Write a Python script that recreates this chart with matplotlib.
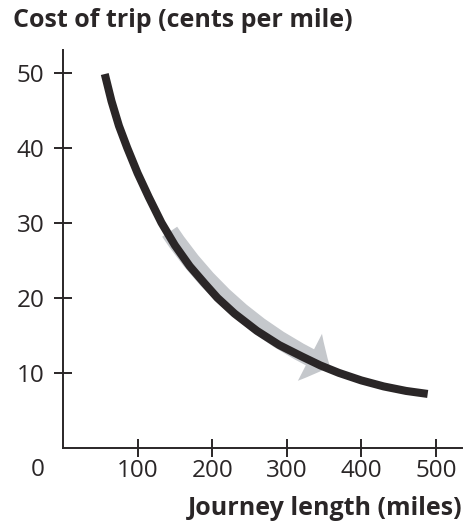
import matplotlib.pyplot as plt
from matplotlib.patches import FancyArrowPatch

# points (journey length in miles, cost in cents per mile)
miles = [56, 65, 75, 86, 100, 115, 132, 150, 170, 190, 207, 230, 260, 290, 320, 345, 370, 400, 430, 460, 489]
cost = [49.8, 46.2, 42.9, 40.0, 36.6, 33.4, 30.0, 27.0, 24.2, 21.9, 20.0, 17.9, 15.6, 13.7, 12.2, 11.0, 10.0, 9.0, 8.2, 7.6, 7.2]

xticks = [100, 200, 300, 400, 500]
yticks = [10, 20, 30, 40, 50]

# gray arrow: tail and tip
arrow_start = (143, 28.8)
arrow_end = (358, 10.8)

dark = "#2a2627"
gray = "#c5c8cc"
font = "Open Sans"

fig = plt.figure(figsize=(4.67, 5.29), dpi=100)
ax = fig.add_axes([63 / 467, 81 / 529, 399 / 467, 398 / 529])

arrow = FancyArrowPatch(arrow_start, arrow_end, connectionstyle="arc3,rad=0.145",
                        arrowstyle="simple,head_length=16,head_width=38,tail_width=13",
                        color=gray, lw=0, shrinkA=0, shrinkB=0, zorder=2)
ax.add_patch(arrow)

ax.plot(miles, cost, color=dark, lw=5.8, solid_capstyle="butt",
        solid_joinstyle="round", zorder=3)

ax.set_xlim(0, 535)
ax.set_ylim(0, 53)
ax.set_xticks(xticks)
ax.set_yticks(yticks)
ax.set_xticklabels([str(v) for v in xticks], fontname=font, fontsize=17.5, color=dark)
ax.set_yticklabels([str(v) for v in yticks], fontname=font, fontsize=17.5, color=dark)

for s in ["top", "right"]:
    ax.spines[s].set_visible(False)
for s in ["left", "bottom"]:
    ax.spines[s].set_linewidth(1.4)
    ax.spines[s].set_color(dark)

ax.tick_params(axis="both", direction="inout", length=12.5, width=1.4, color=dark)
ax.tick_params(axis="y", pad=7)
ax.tick_params(axis="x", pad=2)

# origin label
ax.annotate("0", (0, 0), xytext=(-18, -16), textcoords="offset points",
            ha="center", va="center", fontname=font, fontsize=17.5, color=dark)

fig.text(13 / 467, 1 - 27 / 529, "Cost of trip (cents per mile)", ha="left", va="baseline",
         fontname=font, fontsize=18, fontweight="bold", color=dark)
fig.text(462 / 467, 1 - 515 / 529, "Journey length (miles)", ha="right", va="baseline",
         fontname=font, fontsize=18, fontweight="bold", color=dark)

fig.savefig("out.png", dpi=100)
